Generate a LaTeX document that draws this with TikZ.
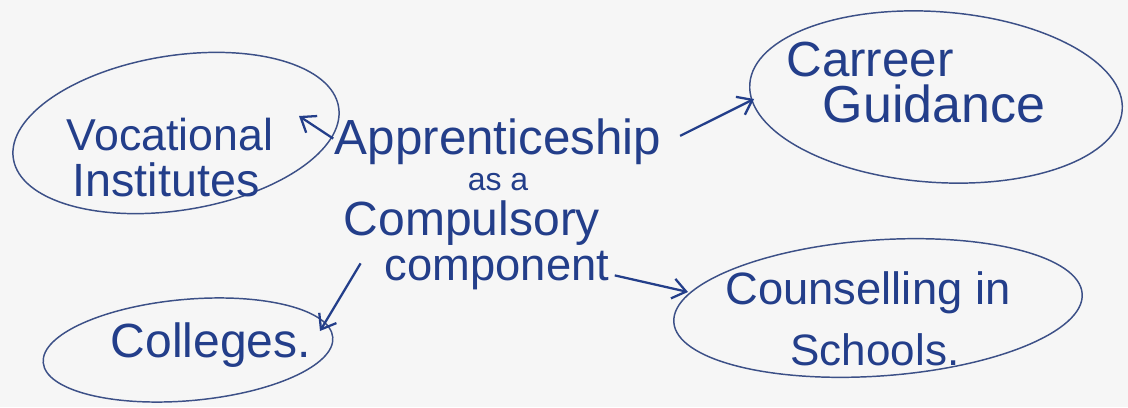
\documentclass[tikz,border=0pt]{standalone}
\usepackage{fontspec}
\setmainfont{Liberation Sans}
\usetikzlibrary{shapes.geometric,arrows.meta}
\definecolor{ink}{RGB}{35,62,138}
\definecolor{inkline}{RGB}{60,80,135}
\definecolor{paper}{RGB}{246,246,246}
\newcommand{\hwsize}[1]{\fontsize{#1}{#1}\selectfont}
\begin{document}
\begin{tikzpicture}[x=0.75pt,y=-0.75pt,
  lbl/.style={text=ink, inner sep=0pt, anchor=base},
  oval/.style={draw=inkline, line width=1.1pt, ellipse, inner sep=0pt},
  arr/.style={draw=ink, line width=1.7pt, -{Straight Barb[length=10pt,width=15pt,line width=1.7pt]}}]
\fill[paper] (0,0) rectangle (1128,407);
\useasboundingbox (0,0) rectangle (1128,407);

% ellipses
\node[oval, minimum width=247pt, minimum height=116pt, rotate=9] (voc) at (176,133) {};
\node[oval, minimum width=280pt, minimum height=128pt, rotate=-4] (car) at (936,97) {};
\node[oval, minimum width=218pt, minimum height=76pt, rotate=5] (col) at (188,350) {};
\node[oval, minimum width=307pt, minimum height=102pt, rotate=4] (cou) at (878,308) {};

% labels
\node[lbl, font=\hwsize{33.5}] (vocA) at (170,150) {Vocational};
\node[lbl, font=\hwsize{35}] (vocB) at (166,196) {Institutes};
\node[lbl, font=\hwsize{37}] (carA) at (870,76) {Carreer};
\node[lbl, font=\hwsize{39}] (carB) at (934,122) {Guidance};
\node[lbl, font=\hwsize{36}] (colA) at (211,357) {Colleges.};
\node[lbl, font=\hwsize{34}] (couA) at (868,304) {Counselling in};
\node[lbl, font=\hwsize{33}] (couB) at (875,365) {Schools.};

% centre text
\node[lbl, font=\hwsize{37}] (a1) at (498,154) {Apprenticeship};
\node[lbl, font=\hwsize{24}] (a2) at (498,190) {as a};
\node[lbl, font=\hwsize{36}] (a3) at (472,235) {Compulsory};
\node[lbl, font=\hwsize{34}] (a4) at (497,280) {component};

% arrow tips
\coordinate (tVoc) at (299,116);
\coordinate (tCar) at (754,99);
\coordinate (tCol) at (320,331);
\coordinate (tCou) at (688,292);

\draw[arr] ([xshift=-1pt,yshift=2pt]a1.west) -- (tVoc);
\draw[arr] ([xshift=14pt,yshift=4pt]a1.east) -- (tCar);
\draw[arr] ([xshift=-18pt,yshift=5pt]a4.west) -- (tCol);
\draw[arr] ([xshift=4pt,yshift=-4pt]a4.east) -- (tCou);
\end{tikzpicture}
\end{document}
